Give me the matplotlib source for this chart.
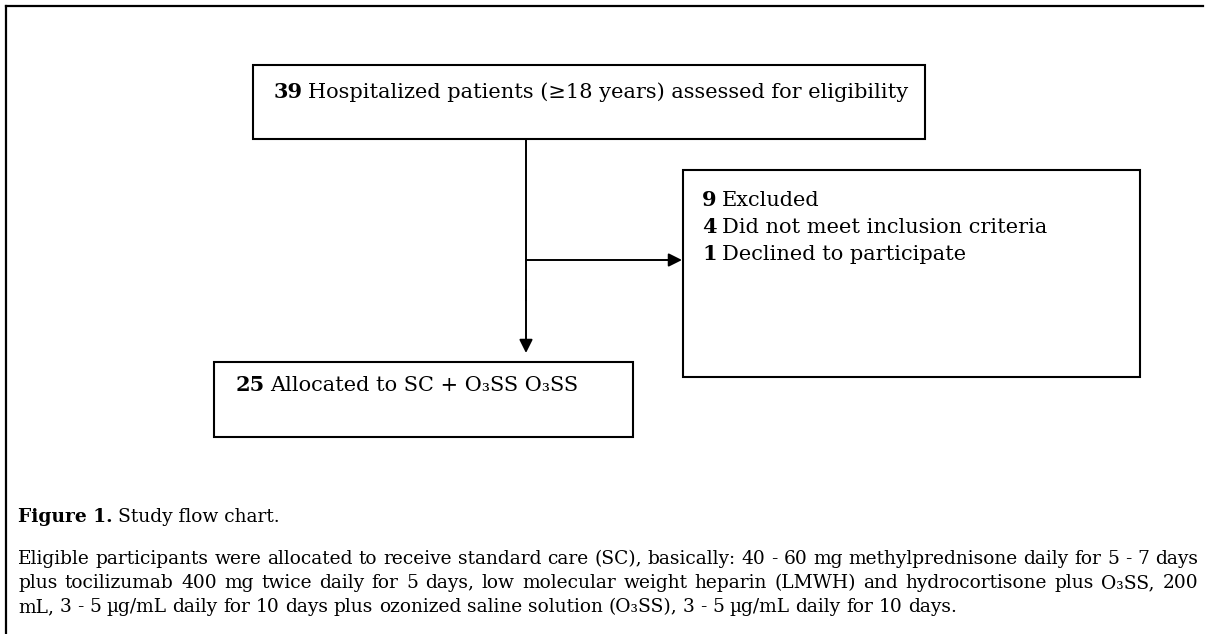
import matplotlib
matplotlib.use("Agg")
import matplotlib.pyplot as plt
from matplotlib.patches import Rectangle, FancyArrowPatch

W, H = 1205, 634
SERIF = ['DejaVu Serif']
BOX_FS = 15
CAP_FS = 13.4

# flow chart counts and labels
screened_n = 39
screened_label = "Hospitalized patients (\u226518 years) assessed for eligibility"
excluded_n = [9, 4, 1]
excluded_labels = ["Excluded", "Did not meet inclusion criteria", "Declined to participate"]
allocated_n = 25
allocated_label = "Allocated to SC + O\u2083SS O\u2083SS"

caption_title = "Figure 1."
caption_sub = "Study flow chart."
caption_lines = [
    "Eligible participants were allocated to receive standard care (SC), basically: "
    "40 - 60 mg methylprednisone daily for 5 - 7 days",
    "plus tocilizumab 400 mg twice daily for 5 days, low molecular weight heparin (LMWH) "
    "and hydrocortisone plus O\u2083SS, 200",
    "mL, 3 - 5 \u00b5g/mL daily for 10 days plus ozonized saline solution (O\u2083SS), "
    "3 - 5 \u00b5g/mL daily for 10 days.",
]

fig = plt.figure(figsize=(W / 100, H / 100), dpi=100)
ax = fig.add_axes([0, 0, 1, 1])
ax.set_xlim(0, W)
ax.set_ylim(H, 0)
ax.axis('off')
renderer = fig.canvas.get_renderer()


def put(x, y, txt, size, bold=False):
    t = ax.text(x, y, txt, fontsize=size, family=SERIF,
                fontweight='bold' if bold else 'normal', va='baseline', ha='left')
    return t.get_window_extent(renderer).width


def measure(txt, size):
    t = ax.text(0, 0, txt, fontsize=size, family=SERIF)
    w = t.get_window_extent(renderer).width
    t.remove()
    return w


def bold_line(x, y, num, rest, size=BOX_FS):
    w = put(x, y, str(num), size, bold=True)
    put(x + w + size * 0.33, y, rest, size)


def justify(x0, x1, y, line, size=CAP_FS):
    words = line.split(" ")
    widths = [measure(w, size) for w in words]
    gap = (x1 - x0 - sum(widths)) / (len(words) - 1)
    x = x0
    for w, wd in zip(words, widths):
        put(x, y, w, size)
        x += wd + gap


def box(x0, y0, x1, y1):
    ax.add_patch(Rectangle((x0, y0), x1 - x0, y1 - y0, fill=False,
                           edgecolor='black', linewidth=1.5))


def arrow(p0, p1):
    ax.add_patch(FancyArrowPatch(p0, p1, arrowstyle='-|>', mutation_scale=20,
                                 color='black', linewidth=1.4, shrinkA=0, shrinkB=0))


# outer frame (left and top only)
ax.plot([6, 6], [H, 6], color='black', linewidth=1.6, solid_capstyle='projecting')
ax.plot([6, 1203], [6, 6], color='black', linewidth=1.6, solid_capstyle='projecting')

# boxes
box(253, 65, 925, 139)
box(683, 170, 1140, 377)
box(214, 362, 633, 437)

# connectors
ax.plot([526, 526], [139, 300], color='black', linewidth=1.4)
arrow((526, 260), (682, 260))
arrow((526, 290), (526, 353))

bold_line(274, 98, screened_n, screened_label)
for i, (n, lab) in enumerate(zip(excluded_n, excluded_labels)):
    bold_line(702, 206 + 27 * i, n, lab)
bold_line(236, 391, allocated_n, allocated_label)

# caption
w = put(18, 522, caption_title, CAP_FS, bold=True)
put(18 + w + 5, 522, caption_sub, CAP_FS)
justify(18, 1198, 564, caption_lines[0])
justify(18, 1198, 588, caption_lines[1])
space = CAP_FS * 0.42
x = 18
for word in caption_lines[2].split(" "):
    x += put(x, 612, word, CAP_FS) + space

fig.savefig("out.png", dpi=100)
